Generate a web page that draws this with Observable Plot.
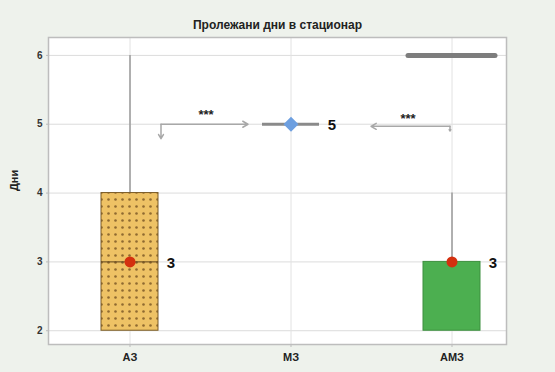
<!DOCTYPE html>
<html>
<head>
<meta charset="utf-8">
<script src="https://cdn.jsdelivr.net/npm/d3@7"></script>
<script src="https://cdn.jsdelivr.net/npm/@observablehq/plot@0.6"></script>
<style>
  html, body { margin: 0; padding: 0; background: #eef2ec; }
  svg { display: block; }
</style>
</head>
<body>
<script>
// Length of hospital stay (days) by group
const categories = ["АЗ", "МЗ", "АМЗ"];
const q1 = [2, 5, 2];
const medians = [3, 5, 3];
const q3 = [4, 5, 3];
const whiskerHigh = [6, 5, 4];
const outlierGroup = ["АМЗ"];
const outlierValue = [6];
const yTicks = [2, 3, 4, 5, 6];
const boxFills = ["url(#dots)", "none", "#4caf50"];
const boxStrokes = ["#7a5a24", "none", "#3d8f3f"];
const medianShapes = ["circle", "diamond", "circle"];
const medianColors = ["#d4300f", "#6d9fe0", "#d4300f"];

// Pairwise comparisons against МЗ
const compFrom = ["АЗ", "АМЗ"];
const compTo = ["МЗ", "МЗ"];
const compLevel = [5, 4.97];
const compLabel = ["***", "***"];

const stats = categories.map((c, i) => ({
  group: c, q1: q1[i], median: medians[i], q3: q3[i], hi: whiskerHigh[i],
  fill: boxFills[i], stroke: boxStrokes[i], shape: medianShapes[i], color: medianColors[i]
}));
const boxes = stats.filter(d => d.q3 > d.q1);
const flat = stats.filter(d => d.q3 === d.q1);
const outliers = outlierGroup.map((g, i) => ({group: g, value: outlierValue[i]}));
const comps = compFrom.map((f, i) => ({from: f, to: compTo[i], y: compLevel[i], label: compLabel[i]}));

const font = "'Liberation Sans', Arial, sans-serif";

const chart = Plot.plot({
  width: 555,
  height: 372,
  marginTop: 37,
  marginBottom: 28,
  marginLeft: 48,
  marginRight: 49,
  style: {background: "transparent", fontFamily: font, color: "#222"},
  x: {type: "band", domain: categories, paddingInner: 0.647, paddingOuter: 0,
      insetLeft: 52.5, insetRight: 25.5, label: null},
  y: {domain: [1.8, 6.26], label: null},
  marks: [
    Plot.frame({fill: "white", stroke: "none"}),
    Plot.gridY(yTicks, {stroke: "#dcdcdc", strokeOpacity: 1, strokeWidth: 1}),
    Plot.gridX(categories, {stroke: "#e2e2e2", strokeOpacity: 1, strokeWidth: 1}),
    Plot.axisY(yTicks, {tickSize: 2, tickPadding: 4, tickFormat: "d", stroke: "#bbb",
      fontSize: 10, fontWeight: "bold", fill: "#333"}),
    Plot.axisX({tickSize: 3, tickPadding: 6, stroke: "#bbb", fontSize: 11, fontWeight: "bold", fill: "#222"}),
    Plot.text(["Дни"], {frameAnchor: "left", rotate: -90, dx: -34, fontSize: 11, fontWeight: "bold", fill: "#222"}),
    Plot.text(["Пролежани дни в стационар"], {frameAnchor: "top", dy: -17, fontSize: 12, fontWeight: "bold", fill: "#222"}),
    // whiskers
    Plot.ruleX(stats.filter(d => d.hi > d.q3), {x: "group", y1: "q3", y2: "hi", stroke: "#9a9a9a", strokeWidth: 1.5}),
    // boxes
    Plot.barY(boxes, {x: "group", y1: "q1", y2: "q3", fill: "fill", stroke: "stroke", strokeWidth: 1}),
    Plot.tickY(boxes.filter(d => d.median > d.q1 && d.median < d.q3), {x: "group", y: "median", stroke: "#5a3f1a", strokeWidth: 1}),
    // collapsed box
    Plot.tickY(flat, {x: "group", y: "median", stroke: "#8a8a8a", strokeWidth: 3}),
    // outliers
    Plot.tickY(outliers, {x: "group", y: "value", stroke: "#7d7d7d", strokeWidth: 5, strokeLinecap: "round",
      insetLeft: -15, insetRight: -15}),
    // comparison arrows
    Plot.arrow(comps.slice(0, 1), {x1: "from", x2: "to", y1: "y", y2: "y", insetStart: 31, insetEnd: 43,
      stroke: "#a8a8a8", strokeWidth: 1.5, headLength: 6}),
    Plot.arrow(comps.slice(0, 1), {x1: "from", x2: "from", y1: "y", y2: d => d.y - 0.21, dx: 31,
      stroke: "#a8a8a8", strokeWidth: 1.5, headLength: 5}),
    Plot.arrow(comps.slice(1), {x1: "from", x2: "to", y1: "y", y2: "y", insetStart: 2, insetEnd: 80,
      stroke: "#a8a8a8", strokeWidth: 1.5, headLength: 6}),
    Plot.arrow(comps.slice(1), {x1: "from", x2: "from", y1: "y", y2: d => d.y - 0.07, dx: -2,
      stroke: "#a8a8a8", strokeWidth: 1.5, headLength: 5}),
    Plot.text(comps.slice(0, 1), {x: "from", y: "y", text: "label", dx: 76, dy: -9, fontSize: 13, fontWeight: "bold", fill: "#222"}),
    Plot.text(comps.slice(1), {x: "from", y: "y", text: "label", dx: -44, dy: -7, fontSize: 13, fontWeight: "bold", fill: "#222"}),
    // medians: circles, and a rotated square for the diamond
    Plot.dot(stats.filter(d => d.shape === "circle"), {x: "group", y: "median", fill: "color", stroke: "none", r: 5.5}),
    Plot.dot(stats.filter(d => d.shape === "diamond"), {x: "group", y: "median", symbol: "square", rotate: 45,
      fill: "color", stroke: "none", r: 6}),
    Plot.text(stats, {x: "group", y: "median", text: d => String(d.median), dx: 41, dy: 1,
      fontSize: 15, fontWeight: "bold", fill: "#111", textAnchor: "middle"}),
    Plot.frame({stroke: "#bdbdbd", strokeWidth: 1.5})
  ]
});

// dotted fill pattern for the АЗ box
const ns = "http://www.w3.org/2000/svg";
const defs = document.createElementNS(ns, "defs");
const pat = document.createElementNS(ns, "pattern");
pat.setAttribute("id", "dots");
pat.setAttribute("width", "7");
pat.setAttribute("height", "7");
pat.setAttribute("patternUnits", "userSpaceOnUse");
const bg = document.createElementNS(ns, "rect");
bg.setAttribute("width", "7");
bg.setAttribute("height", "7");
bg.setAttribute("fill", "#eec265");
const dot = document.createElementNS(ns, "circle");
dot.setAttribute("cx", "3.5");
dot.setAttribute("cy", "3.5");
dot.setAttribute("r", "1.3");
dot.setAttribute("fill", "#8f6a30");
pat.appendChild(bg);
pat.appendChild(dot);
defs.appendChild(pat);
chart.insertBefore(defs, chart.firstChild);

document.body.appendChild(chart);
</script>
</body>
</html>
